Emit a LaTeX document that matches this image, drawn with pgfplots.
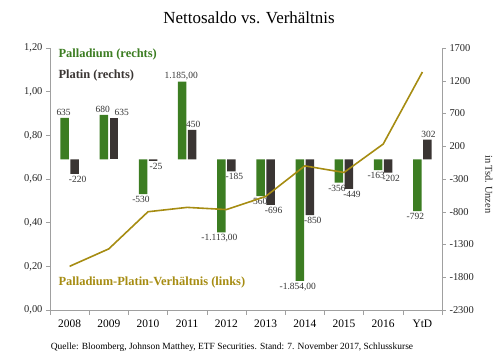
\documentclass[border=0pt]{standalone}
\usepackage{fontspec}
\setmainfont{Liberation Serif}
\usepackage{pgfplots}
\pgfplotsset{compat=1.18}
\usepackage{pgfplotstable}
\definecolor{pd}{HTML}{3C7D22}
\definecolor{pt}{HTML}{3A3533}
\definecolor{gold}{HTML}{A68C12}
\definecolor{axgray}{HTML}{A0A0A0}

% Palladium net balance (thousand oz)
\pgfplotstableread{
x y lab
0 635 635
1 680 680
3 1185 1.185,00
}\pdpos
\pgfplotstableread{
x y lab
2 -530 -530
4 -1113 -1.113,00
5 -560 -560
6 -1854 -1.854,00
7 -356 -356
8 -163 -163
9 -792 -792
}\pdneg
% Platinum net balance (thousand oz)
\pgfplotstableread{
x y lab
1 635 635
}\ptposa
\pgfplotstableread{
x y lab
3 450 450
9 302 302
}\ptpos
\pgfplotstableread{
x y lab
0 -220 -220
2 -25 -25
4 -185 -185
5 -696 -696
6 -850 -850
7 -449 -449
8 -202 -202
}\ptneg
% Palladium/Platinum ratio
\pgfplotstableread{
x ratio
0 0.20
1 0.28
2 0.45
3 0.47
4 0.46
5 0.52
6 0.66
7 0.63
8 0.76
9 1.09
}\ratio

\begin{document}
\begin{tikzpicture}
\useasboundingbox (0bp,0bp) rectangle (500bp,356bp);
% bars on right axis
\begin{axis}[
  at={(50bp,46bp)}, anchor=south west, scale only axis,
  width=392bp, height=262bp,
  xmin=-0.5, xmax=9.5, ymin=-2300, ymax=1700,
  axis y line*=right, axis x line=none,
  y axis line style={axgray,-},
  ytick={-2300,-1800,...,1700},
  tick align=outside, major tick length=4bp,
  every tick/.style={axgray},
  yticklabel style={font=\fontsize{10.5}{12}\selectfont, text=black!85,
    /pgf/number format/.cd, 1000 sep={}, assume math mode=true},
  ylabel={in Tsd.\ Unzen},
  ylabel style={at={(axis description cs:1.12,0.48)}, anchor=center, rotate=180,
    font=\fontsize{10.5}{12}\selectfont, text=black!85},
  ybar, bar width=8.5bp,
  point meta=explicit symbolic,
  nodes near coords,
  nodes near coords style={font=\fontsize{9.5}{10}\selectfont, text=black!80, inner sep=2bp},
  clip=false,
]
\addplot[fill=pd, draw=none, bar shift=-5bp, nodes near coords style={anchor=south, xshift=-1bp}] table[x=x,y=y,meta=lab]{\pdpos};
\addplot[fill=pd, draw=none, bar shift=-5bp, nodes near coords style={anchor=north, xshift=-2bp}] table[x=x,y=y,meta=lab]{\pdneg};
\addplot[fill=pt, draw=none, bar shift=5bp, nodes near coords style={anchor=south, xshift=8bp}] table[x=x,y=y,meta=lab]{\ptposa};
\addplot[fill=pt, draw=none, bar shift=5bp, nodes near coords style={anchor=south, xshift=1bp}] table[x=x,y=y,meta=lab]{\ptpos};
\addplot[fill=pt, draw=none, bar shift=5bp, nodes near coords style={anchor=north, xshift=3bp}] table[x=x,y=y,meta=lab]{\ptneg};
\end{axis}
% ratio line on left axis
\begin{axis}[
  at={(50bp,46bp)}, anchor=south west, scale only axis,
  width=392bp, height=262bp,
  xmin=-0.5, xmax=9.5, ymin=0, ymax=1.2,
  axis y line*=left, axis x line*=bottom,
  axis line style={axgray,-},
  xtick={0,1,2,3,4,5,6,7,8,9},
  xticklabels={2008,2009,2010,2011,2012,2013,2014,2015,2016,YtD},
  major x tick style={draw=none},
  minor xtick={-0.5,0.5,1.5,2.5,3.5,4.5,5.5,6.5,7.5,8.5,9.5},
  minor tick length=5bp,
  tick align=outside, major tick length=4bp,
  every tick/.style={axgray},
  xticklabel style={font=\fontsize{11.5}{13}\selectfont, text=black, yshift=-2bp},
  ytick={0,0.2,0.4,0.6,0.8,1.0,1.2},
  yticklabel style={font=\fontsize{10.5}{12}\selectfont, text=black!85,
    /pgf/number format/.cd, fixed, fixed zerofill, precision=2, use comma, assume math mode=true},
  clip=false,
]
\addplot[gold, line width=1.6bp] table[x=x,y=ratio]{\ratio};
\end{axis}
\node at (249bp,338bp) {\fontsize{17}{20}\selectfont Nettosaldo vs. Verhältnis};
\node[anchor=west, text=pd, font=\bfseries\fontsize{12.5}{14}\selectfont] at (55bp,301bp) {Palladium (rechts)};
\node[anchor=west, text=pt, font=\bfseries\fontsize{12.5}{14}\selectfont] at (55bp,280bp) {Platin (rechts)};
\node[anchor=west, text=gold, font=\bfseries\fontsize{12.5}{14}\selectfont] at (55bp,73bp) {Palladium-Platin-Verhältnis (links)};
\node at (232bp,9bp) {\fontsize{9.5}{11}\selectfont Quelle: Bloomberg, Johnson Matthey, ETF Securities. Stand: 7. November 2017, Schlusskurse};
\end{tikzpicture}
\end{document}
